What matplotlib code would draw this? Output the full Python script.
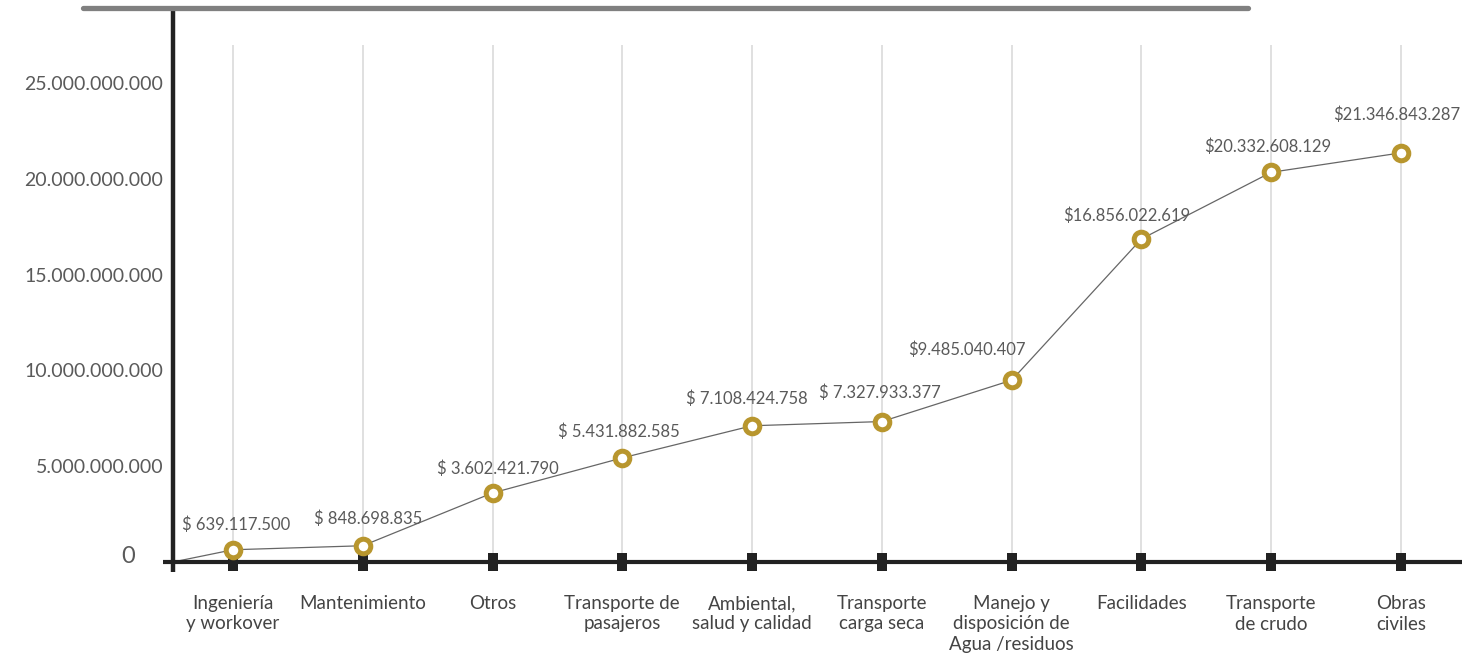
import matplotlib
matplotlib.use("Agg")
import matplotlib.pyplot as plt
from matplotlib.lines import Line2D
from matplotlib.transforms import blended_transform_factory

# ---- data ----
categories = [
    "Ingeniería\ny workover",
    "Mantenimiento",
    "Otros",
    "Transporte de\npasajeros",
    "Ambiental,\nsalud y calidad",
    "Transporte\ncarga seca",
    "Manejo y\ndisposición de\nAgua /residuos",
    "Facilidades",
    "Transporte\nde crudo",
    "Obras\nciviles",
]
values = [
    639117500, 848698835, 3602421790, 5431882585, 7108424758,
    7327933377, 9485040407, 16856022619, 20332608129, 21346843287,
]
value_labels = [
    "$ 639.117.500", "$ 848.698.835", "$ 3.602.421.790", "$ 5.431.882.585",
    "$ 7.108.424.758", "$ 7.327.933.377", "$9.485.040.407", "$16.856.022.619",
    "$20.332.608.129", "$21.346.843.287",
]
y_ticks = [5e9, 10e9, 15e9, 20e9, 25e9]
y_tick_labels = ["5.000.000.000", "10.000.000.000", "15.000.000.000",
                 "20.000.000.000", "25.000.000.000"]

# label offsets from each point, in pixels (dx, dy up)
label_offsets_px = [(3, 25), (5, 27), (5, 24), (-3, 26), (-5, 27),
                    (-2, 29), (-45, 30), (-15, 23), (-4, 26), (-4, 38)]

W, H, DPI = 1464, 662, 100
GOLD = "#B8962E"
INK = "#222222"
TXT = "#5a5a5a"
FONT = "Lato"

fig = plt.figure(figsize=(W / DPI, H / DPI), dpi=DPI)
fig.patch.set_facecolor("white")

# axes box in pixels: left 173, right 1462, bottom 562, top 10
L, R, B, T = 173, 1462, 562, 10
ax = fig.add_axes([L / W, 1 - B / H, (R - L) / W, (B - T) / H])
ax.set_facecolor("none")

x_pos = list(range(len(categories)))
x_left = -0.462
ax.set_xlim(x_left, 9.47)
ax.set_ylim(0, 28.8e9)

for s in ax.spines.values():
    s.set_visible(False)

# light vertical guide lines at each category
ax.vlines(x_pos, 0, 27.0e9, colors="#dddddd", linewidth=1.3, zorder=1)

# axis lines drawn by hand so they overhang a little
ax.add_line(Line2D([0, 0], [-(572 - B) / (B - T), 1.0], transform=ax.transAxes,
                   color=INK, linewidth=3.2, clip_on=False, zorder=4,
                   solid_capstyle="butt"))
ax.add_line(Line2D([-(L - 163) / (R - L), 1.0], [0, 0], transform=ax.transAxes,
                   color=INK, linewidth=3.0, clip_on=False, zorder=4,
                   solid_capstyle="butt"))

# block-shaped tick marks on the x axis
rect = [(-0.28, -0.5), (0.28, -0.5), (0.28, 0.5), (-0.28, 0.5), (-0.28, -0.5)]
ax.plot(x_pos, [0] * len(x_pos), linestyle="none", marker=rect,
        markersize=13.5, color=INK, markeredgewidth=0, clip_on=False, zorder=5)

# connecting line from the origin through every point
ax.plot([x_left] + x_pos, [0] + values, color="#666666", linewidth=0.9,
        clip_on=False, zorder=3, solid_capstyle="butt")
ax.plot(x_pos, values, linestyle="none", marker="o", markersize=10.5,
        markerfacecolor="white", markeredgecolor=GOLD, markeredgewidth=3.6,
        zorder=6, clip_on=False)

for x, v, lab, (dx, dy) in zip(x_pos, values, value_labels, label_offsets_px):
    ax.annotate(lab, (x, v), xytext=(dx * 0.72, dy * 0.72),
                textcoords="offset points", ha="center", va="center",
                fontsize=12, color=TXT, family=FONT, fontweight="normal",
                zorder=7)

# y tick labels
ax.set_yticks(y_ticks)
ax.set_yticklabels(y_tick_labels, fontsize=14, color=TXT, family=FONT,
                   fontweight="normal")
ax.tick_params(axis="y", length=0, pad=7)
ax.set_xticks([])

trans = blended_transform_factory(ax.transAxes, ax.transData)
ax.text(-(L - 135) / (R - L), 0.3e9, "0", ha="right", va="center",
        fontsize=17, color=TXT, family=FONT, fontweight="normal",
        transform=trans, clip_on=False)

# category labels below the axis
cat_trans = blended_transform_factory(ax.transData, ax.transAxes)
for x, cat in zip(x_pos, categories):
    ax.text(x, -(595 - B) / (B - T), cat, transform=cat_trans,
            ha="center", va="top", fontsize=13.5, color="#444444", family=FONT,
            fontweight="normal", linespacing=1.25, clip_on=False)

# grey bar across the top
fig.add_artist(Line2D([83 / W, 1248 / W], [1 - 8 / H, 1 - 8 / H],
                      transform=fig.transFigure, color="#808080",
                      linewidth=3.8, solid_capstyle="round"))

fig.savefig("out.png", dpi=DPI, facecolor="white")
